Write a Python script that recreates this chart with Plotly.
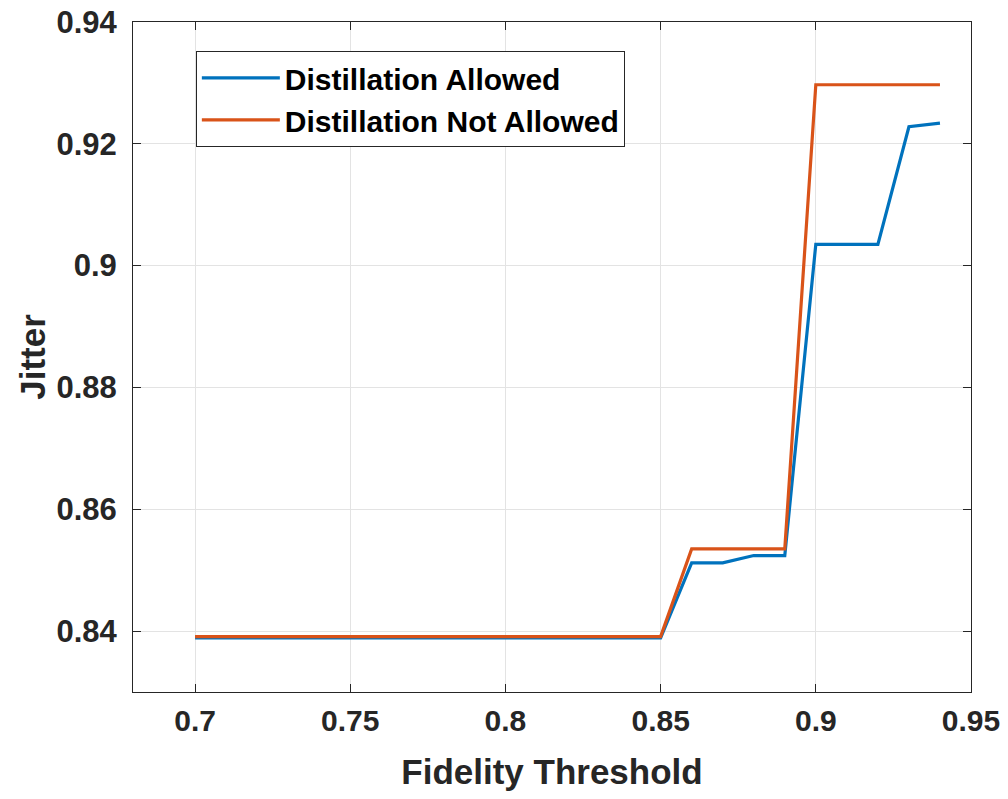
import plotly.graph_objects as go

fidelity = [0.70, 0.71, 0.72, 0.73, 0.74, 0.75, 0.76, 0.77, 0.78, 0.79,
            0.80, 0.81, 0.82, 0.83, 0.84, 0.85, 0.86, 0.87, 0.88, 0.89,
            0.90, 0.91, 0.92, 0.93, 0.94]
jitter_allowed = [0.8389] * 16 + [0.8512, 0.8512, 0.8524, 0.8524,
                                  0.9035, 0.9035, 0.9035, 0.9228, 0.9234]
jitter_not_allowed = [0.8391] * 16 + [0.8535, 0.8535, 0.8535, 0.8535,
                                      0.9297, 0.9297, 0.9297, 0.9297, 0.9297]

x_ticks = [0.7, 0.75, 0.8, 0.85, 0.9, 0.95]
x_labels = ["0.7", "0.75", "0.8", "0.85", "0.9", "0.95"]
y_ticks = [0.84, 0.86, 0.88, 0.90, 0.92, 0.94]
y_labels = ["0.84", "0.86", "0.88", "0.9", "0.92", "0.94"]

FONT = "Liberation Sans, Arial, sans-serif"

fig = go.Figure()
fig.add_trace(go.Scatter(x=fidelity, y=jitter_allowed, mode="lines",
                         name="Distillation Allowed",
                         line=dict(color="#0072BD", width=3.2)))
fig.add_trace(go.Scatter(x=fidelity, y=jitter_not_allowed, mode="lines",
                         name="Distillation Not Allowed",
                         line=dict(color="#D95319", width=3.2)))

axis_common = dict(
    showline=True, linecolor="#262626", linewidth=1, mirror="ticks",
    ticks="inside", ticklen=8, tickcolor="#262626", tickwidth=1,
    showgrid=True, gridcolor="#e3e3e3", gridwidth=1, zeroline=False,
    automargin=False, ticklabeloverflow="allow",
)

fig.update_xaxes(range=[0.68, 0.95], tickvals=x_ticks, ticktext=x_labels,
                 tickfont=dict(family=FONT, size=30, color="#262626", weight="bold"),
                 ticklabelstandoff=2,
                 title=dict(text="<b>Fidelity Threshold</b>",
                            font=dict(family=FONT, size=35, color="#262626"),
                            standoff=24),
                 **axis_common)
fig.update_yaxes(range=[0.83, 0.94], tickvals=y_ticks, ticktext=y_labels,
                 tickfont=dict(family=FONT, size=31, color="#262626", weight="bold"),
                 ticklabelstandoff=9,
                 title=dict(text="<b>Jitter</b>",
                            font=dict(family=FONT, size=35, color="#262626"),
                            standoff=0),
                 **axis_common)

fig.update_layout(
    width=1000, height=783,
    margin=dict(l=125, r=37, t=14, b=99, pad=0),
    plot_bgcolor="white", paper_bgcolor="white",
    font=dict(family=FONT, color="#262626"),
    showlegend=True,
    legend=dict(x=0.075, y=0.957, xanchor="left", yanchor="top",
                bgcolor="white", bordercolor="#262626", borderwidth=1,
                font=dict(family=FONT, size=30, color="black", weight="bold"),
                itemwidth=78, tracegroupgap=0),
)

fig.write_html("out.html")
